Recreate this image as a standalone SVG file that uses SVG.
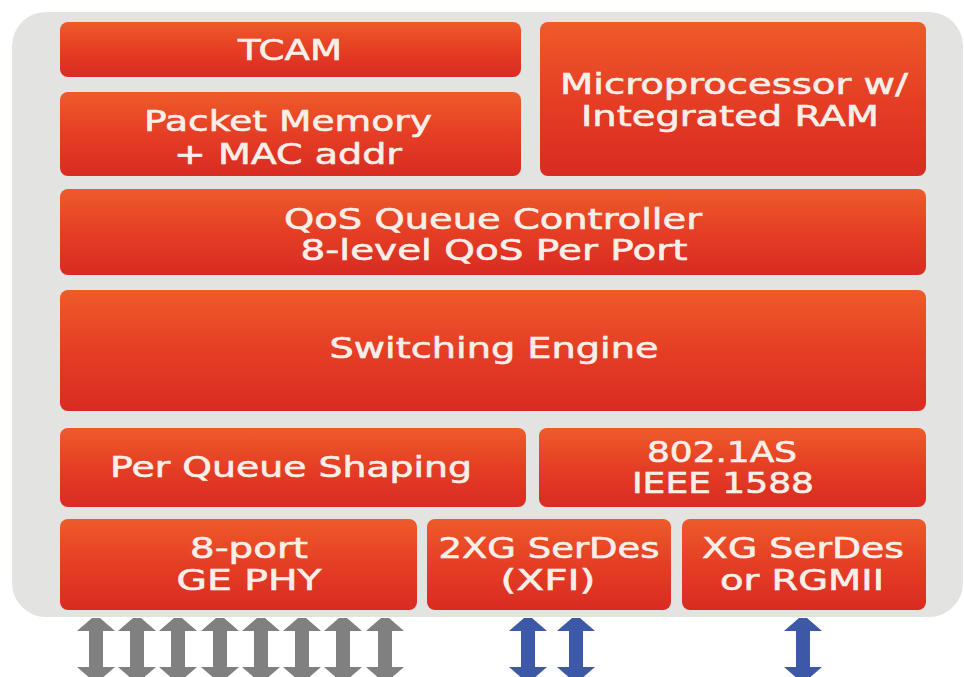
<svg xmlns="http://www.w3.org/2000/svg" width="964" height="677" viewBox="0 0 964 677">
  <defs>
    <linearGradient id="boxFill" x1="0" y1="0" x2="0" y2="1">
      <stop offset="0" stop-color="#ee5b2a"/>
      <stop offset="0.5" stop-color="#e53e25"/>
      <stop offset="1" stop-color="#d92b22"/>
    </linearGradient>
    <path id="arrow" d="M-4,618 H4 L19,631 H7 V667 H19 L4,680 H-4 L-19,667 H-7 V631 H-19 Z"/>
    <style>
      .box { fill: url(#boxFill); }
      .lbl { font-family: "DejaVu Sans", "Liberation Sans", sans-serif; font-size: 28px; fill: #f8efe8; stroke: #f8efe8; stroke-width: 0.6px; text-anchor: middle; }
      .gray { fill: #808080; }
      .blue { fill: #3d58a6; }
    </style>
  </defs>
  <rect width="964" height="677" fill="#ffffff"/>
  <rect id="panel" x="12" y="12" width="951" height="605" rx="34" ry="34" fill="#e3e3e1"/>

  <g id="tcam">
    <rect class="box" x="60" y="22" width="461" height="55" rx="8"/>
    <text class="lbl" x="290" y="60" textLength="104" lengthAdjust="spacingAndGlyphs">TCAM</text>
  </g>
  <g id="packet-memory">
    <rect class="box" x="60" y="92" width="461" height="84" rx="8"/>
    <text class="lbl" x="288" y="131" textLength="288" lengthAdjust="spacingAndGlyphs">Packet Memory</text>
    <text class="lbl" x="288" y="164" textLength="228" lengthAdjust="spacingAndGlyphs">+ MAC addr</text>
  </g>
  <g id="microprocessor">
    <rect class="box" x="540" y="22" width="386" height="154" rx="8"/>
    <text class="lbl" x="734" y="94" textLength="348" lengthAdjust="spacingAndGlyphs">Microprocessor w/</text>
    <text class="lbl" x="730" y="126" textLength="298" lengthAdjust="spacingAndGlyphs">Integrated RAM</text>
  </g>
  <g id="qos-queue-controller">
    <rect class="box" x="60" y="189" width="866" height="86" rx="8"/>
    <text class="lbl" x="493" y="229" textLength="418" lengthAdjust="spacingAndGlyphs">QoS Queue Controller</text>
    <text class="lbl" x="494" y="260" textLength="387" lengthAdjust="spacingAndGlyphs">8-level QoS Per Port</text>
  </g>
  <g id="switching-engine">
    <rect class="box" x="60" y="290" width="866" height="121" rx="8"/>
    <text class="lbl" x="494" y="358" textLength="329" lengthAdjust="spacingAndGlyphs">Switching Engine</text>
  </g>
  <g id="per-queue-shaping">
    <rect class="box" x="60" y="428" width="466" height="79" rx="8"/>
    <text class="lbl" x="291" y="477" textLength="362" lengthAdjust="spacingAndGlyphs">Per Queue Shaping</text>
  </g>
  <g id="ieee-1588">
    <rect class="box" x="539" y="428" width="387" height="79" rx="8"/>
    <text class="lbl" x="722" y="462" textLength="150" lengthAdjust="spacingAndGlyphs">802.1AS</text>
    <text class="lbl" x="723" y="493" textLength="182" lengthAdjust="spacingAndGlyphs">IEEE 1588</text>
  </g>
  <g id="ge-phy">
    <rect class="box" x="60" y="519" width="357" height="91" rx="8"/>
    <text class="lbl" x="249" y="558" textLength="118" lengthAdjust="spacingAndGlyphs">8-port</text>
    <text class="lbl" x="249" y="590" textLength="145" lengthAdjust="spacingAndGlyphs">GE PHY</text>
  </g>
  <g id="xfi-serdes">
    <rect class="box" x="427" y="519" width="244" height="91" rx="8"/>
    <text class="lbl" x="549" y="558" textLength="221" lengthAdjust="spacingAndGlyphs">2XG SerDes</text>
    <text class="lbl" x="548" y="590" textLength="95" lengthAdjust="spacingAndGlyphs">(XFI)</text>
  </g>
  <g id="xg-serdes">
    <rect class="box" x="682" y="519" width="244" height="91" rx="8"/>
    <text class="lbl" x="803" y="558" textLength="202" lengthAdjust="spacingAndGlyphs">XG SerDes</text>
    <text class="lbl" x="802" y="590" textLength="164" lengthAdjust="spacingAndGlyphs">or RGMII</text>
  </g>

  <g id="connectors">
    <use href="#arrow" class="gray" x="96"/>
    <use href="#arrow" class="gray" x="137"/>
    <use href="#arrow" class="gray" x="178"/>
    <use href="#arrow" class="gray" x="220"/>
    <use href="#arrow" class="gray" x="261"/>
    <use href="#arrow" class="gray" x="302"/>
    <use href="#arrow" class="gray" x="343"/>
    <use href="#arrow" class="gray" x="385"/>
    <use href="#arrow" class="blue" x="528"/>
    <use href="#arrow" class="blue" x="576"/>
    <use href="#arrow" class="blue" x="803"/>
  </g>
</svg>
